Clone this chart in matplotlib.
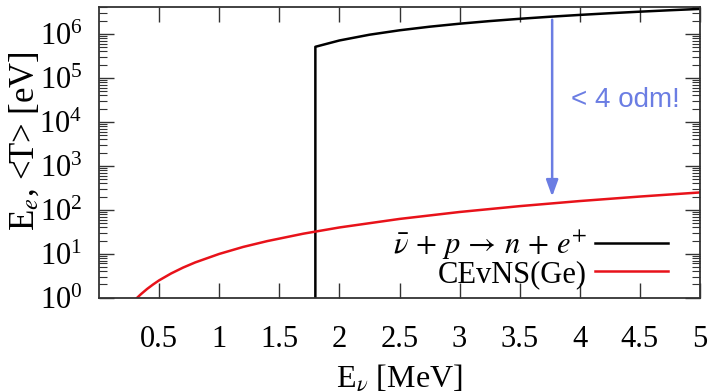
import matplotlib
matplotlib.use("Agg")
import matplotlib.pyplot as plt
from matplotlib.ticker import LogLocator, NullFormatter, FixedLocator

plt.rcParams['font.family'] = ['Liberation Serif', 'DejaVu Serif']
plt.rcParams['mathtext.fontset'] = 'stix'

# IBD positron energy (eV) vs neutrino energy (MeV)
ibd_E = [1.8, 1.8, 2.0, 2.25, 2.5, 2.75, 3.0, 3.25, 3.5, 3.75, 4.0, 4.25, 4.5, 4.75, 5.0]
ibd_Ee = [1.0, 5.1e5, 7.1e5, 9.6e5, 1.21e6, 1.46e6, 1.71e6, 1.96e6, 2.21e6, 2.46e6,
          2.71e6, 2.96e6, 3.21e6, 3.46e6, 3.71e6]

# CEvNS mean recoil energy on Ge (eV)
cevns_E = [0.318, 0.35, 0.4, 0.45, 0.5, 0.6, 0.7, 0.8, 1.0, 1.2, 1.4, 1.7, 2.0, 2.5,
           3.0, 3.5, 4.0, 4.5, 5.0]
cevns_T = [1.0, 1.21, 1.58, 2.0, 2.48, 3.56, 4.85, 6.34, 9.9, 14.3, 19.4, 28.6, 39.6,
           61.9, 89.1, 121.0, 158.0, 200.0, 248.0]

xticks = [0.5, 1, 1.5, 2, 2.5, 3, 3.5, 4, 4.5, 5]
xticklabels = ["0.5", "1", "1.5", "2", "2.5", "3", "3.5", "4", "4.5", "5"]

arrow_x = 3.77
arrow_from = 2.1e6
arrow_to = 2.0e2
note = "< 4 odm!"
blue = '#6b7de3'

fig = plt.figure(figsize=(7.11, 3.92), dpi=100)
ax = fig.add_axes([99/711, 1-297.7/392, (700-99)/711, (297.7-7)/392])

ax.plot(ibd_E, ibd_Ee, color='black', lw=1.8,
        label=r'$\bar{\nu}\,+\,p\,\rightarrow\,n\,+\,e^{+}$')
ax.plot(cevns_E, cevns_T, color='#e8121a', lw=1.8, label='CEvNS(Ge)')

ax.set_yscale('log')
ax.set_xlim(0, 5)
ax.set_ylim(1, 4.1e6)
ax.xaxis.set_major_locator(FixedLocator(xticks))
ax.set_xticklabels(xticklabels)
ax.yaxis.set_major_locator(LogLocator(base=10, numticks=20))
ax.yaxis.set_minor_locator(LogLocator(base=10, subs=range(2, 10), numticks=100))
ax.yaxis.set_minor_formatter(NullFormatter())

ax.tick_params(axis='both', which='major', direction='in', top=True, right=True,
               length=11, width=1.0, color='#333333')
ax.tick_params(axis='y', which='minor', direction='in', right=True, length=6, width=0.8,
               color='#333333')
ax.tick_params(axis='x', which='major', labelsize=22, pad=20)
ax.tick_params(axis='y', which='major', labelsize=22, pad=12)
for s in ax.spines.values():
    s.set_linewidth(1.3)
    s.set_color('#333333')

ax.set_xlabel(r'E$_{\nu}$ [MeV]', fontsize=23, labelpad=6)
ax.set_ylabel(r'E$_{e}$, <T> [eV]', fontsize=25)
ax.yaxis.set_label_coords(-0.095, 0.54)

ax.annotate('', xy=(arrow_x, arrow_to), xytext=(arrow_x, arrow_from),
            arrowprops=dict(arrowstyle='-|>,head_length=0.55,head_width=0.2',
                            color=blue, lw=1.8, mutation_scale=18, shrinkA=0, shrinkB=0))
ax.text(3.93, 3.2e4, note, color=blue, fontsize=20, family=['Liberation Sans', 'DejaVu Sans'],
        ha='left', va='center')

ax.legend(loc='lower right', bbox_to_anchor=(0.947, 0.03), frameon=False,
          markerfirst=False, fontsize=22, handlelength=2.4, handletextpad=0.25,
          labelspacing=-0.05, borderpad=0, borderaxespad=0)

fig.savefig('out.png', dpi=100)
